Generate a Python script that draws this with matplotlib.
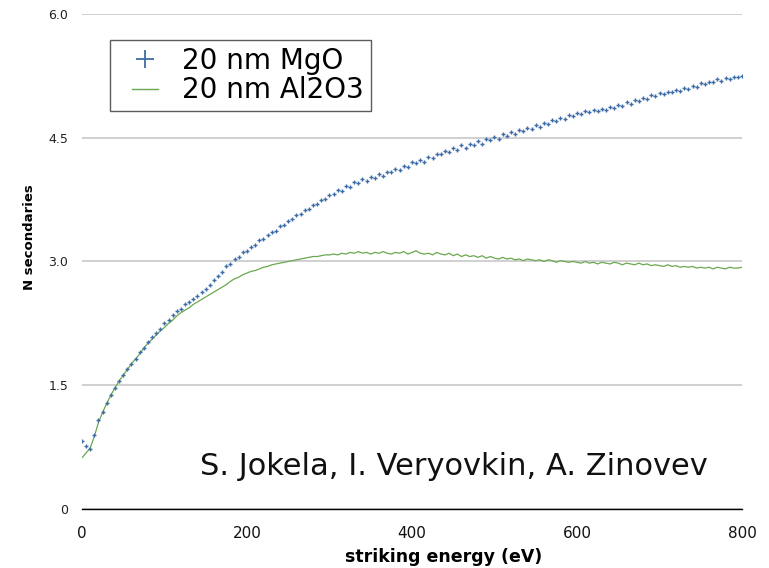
import numpy as np
import matplotlib
matplotlib.use("Agg")
import matplotlib.pyplot as plt
from matplotlib.lines import Line2D
from matplotlib.legend_handler import HandlerLine2D

# striking energy grid (eV), 5 eV steps
energy = np.arange(0, 805, 5)

mgo = [
    0.83, 0.76, 0.73, 0.90, 1.08, 1.18, 1.28, 1.38, 1.47, 1.55,
    1.62, 1.70, 1.76, 1.82, 1.90, 1.95, 2.02, 2.08, 2.13, 2.18,
    2.25, 2.29, 2.35, 2.40, 2.43, 2.48, 2.51, 2.54, 2.58, 2.63,
    2.67, 2.71, 2.77, 2.83, 2.87, 2.94, 2.97, 3.03, 3.05, 3.11,
    3.13, 3.18, 3.20, 3.26, 3.27, 3.32, 3.36, 3.37, 3.43, 3.44,
    3.49, 3.51, 3.56, 3.57, 3.63, 3.64, 3.69, 3.70, 3.75, 3.76,
    3.81, 3.82, 3.87, 3.86, 3.91, 3.90, 3.96, 3.95, 4.00, 3.98,
    4.03, 4.01, 4.06, 4.04, 4.09, 4.08, 4.12, 4.11, 4.16, 4.15,
    4.20, 4.19, 4.23, 4.21, 4.27, 4.25, 4.30, 4.30, 4.34, 4.33,
    4.38, 4.35, 4.41, 4.38, 4.43, 4.41, 4.46, 4.43, 4.49, 4.47,
    4.51, 4.49, 4.54, 4.52, 4.57, 4.55, 4.59, 4.58, 4.62, 4.61,
    4.65, 4.63, 4.68, 4.67, 4.71, 4.70, 4.74, 4.73, 4.77, 4.76,
    4.80, 4.79, 4.83, 4.81, 4.84, 4.82, 4.85, 4.84, 4.87, 4.86,
    4.90, 4.88, 4.93, 4.91, 4.96, 4.94, 4.98, 4.97, 5.02, 5.00,
    5.04, 5.03, 5.06, 5.05, 5.08, 5.07, 5.10, 5.09, 5.13, 5.12,
    5.16, 5.15, 5.18, 5.17, 5.21, 5.19, 5.22, 5.21, 5.24, 5.23,
    5.25,
]

al2o3 = [
    0.62, 0.68, 0.74, 0.88, 1.05, 1.17, 1.28, 1.38, 1.47, 1.55,
    1.62, 1.69, 1.76, 1.82, 1.88, 1.95, 2.01, 2.06, 2.11, 2.16,
    2.20, 2.25, 2.29, 2.34, 2.38, 2.41, 2.44, 2.48, 2.51, 2.54,
    2.57, 2.60, 2.63, 2.66, 2.69, 2.72, 2.76, 2.79, 2.81, 2.84,
    2.86, 2.88, 2.89, 2.91, 2.93, 2.94, 2.96, 2.97, 2.98, 2.99,
    3.00, 3.01, 3.02, 3.03, 3.04, 3.05, 3.06, 3.06, 3.07, 3.08,
    3.08, 3.09, 3.08, 3.10, 3.09, 3.11, 3.10, 3.12, 3.10, 3.11,
    3.09, 3.11, 3.10, 3.12, 3.10, 3.09, 3.11, 3.10, 3.12, 3.09,
    3.11, 3.13, 3.10, 3.09, 3.10, 3.08, 3.11, 3.09, 3.08, 3.10,
    3.07, 3.09, 3.06, 3.08, 3.06, 3.07, 3.05, 3.07, 3.04, 3.06,
    3.04, 3.03, 3.05, 3.03, 3.04, 3.02, 3.03, 3.01, 3.03, 3.02,
    3.01, 3.02, 3.00, 3.02, 3.01, 2.99, 3.01, 3.00, 2.99, 3.00,
    2.99, 2.98, 3.00, 2.98, 2.99, 2.97, 2.99, 2.98, 2.97, 2.99,
    2.98, 2.96, 2.98, 2.97, 2.96, 2.98, 2.96, 2.97, 2.95, 2.96,
    2.95, 2.94, 2.96, 2.94, 2.95, 2.93, 2.94, 2.93, 2.94, 2.92,
    2.93, 2.92, 2.93, 2.91, 2.93, 2.92, 2.91, 2.93, 2.92, 2.92,
    2.93,
]

series_labels = ["20 nm MgO", "20 nm Al2O3"]
x_ticks = [0, 200, 400, 600, 800]
y_ticks = [0, 1.5, 3.0, 4.5, 6.0]
y_ticklabels = ["0", "1.5", "3.0", "4.5", "6.0"]
credit = "S. Jokela, I. Veryovkin, A. Zinovev"

blue = "#3d6ca6"
green = "#6aa84f"

plt.rcParams["font.family"] = ["DejaVu Sans"]

fig = plt.figure(figsize=(7.69, 5.68), dpi=100)
ax = fig.add_axes([0.1066, 0.1039, 0.8583, 0.8715])

ax.plot(energy, al2o3, color=green, lw=0.9, zorder=3)
ax.plot(energy, mgo, ls="none", marker="+", ms=2.6, mew=1.0, color=blue, zorder=4)

ax.set_xlim(0, 800)
ax.set_ylim(0, 6.0)
ax.set_xticks(x_ticks)
ax.set_yticks(y_ticks)
ax.set_yticklabels(y_ticklabels)
ax.tick_params(axis="x", length=0, pad=12, labelsize=11, labelcolor="#111111")
ax.tick_params(axis="y", length=0, pad=10, labelsize=9, labelcolor="#222222")

ax.grid(axis="y", color="#c8c8c8", lw=1.2)
ax.set_axisbelow(True)
for s in ["top", "right", "left"]:
    ax.spines[s].set_visible(False)
ax.spines["bottom"].set_color("black")
ax.spines["bottom"].set_linewidth(1.0)
ax.spines["bottom"].set_zorder(5)

ax.set_xlabel("striking energy (eV)", fontsize=12.5, fontweight="bold")
ax.set_ylabel("N secondaries", fontsize=9.5, fontweight="bold")
ax.xaxis.set_label_coords(0.548, -0.079)
ax.yaxis.set_label_coords(-0.070, 0.549)

ax.text(451, 0.52, credit, fontsize=22, ha="center", va="center", color="#111111")

handles = [
    Line2D([], [], ls="none", marker="+", ms=13, mew=1.3, color=blue),
    Line2D([], [], color=green, lw=1.0),
]
hmap = {h: HandlerLine2D(xpad=0.54) for h in handles}
leg = ax.legend(handles, series_labels, loc="upper left",
                bbox_to_anchor=(0.0424, 0.9475), fontsize=20,
                frameon=True, fancybox=False, borderpad=0.25,
                labelspacing=0.05, handlelength=1.48, handletextpad=0.86,
                borderaxespad=0, handler_map=hmap)
leg.get_frame().set_edgecolor("#333333")
leg.get_frame().set_linewidth(1.0)

fig.savefig("out.png", dpi=100)
